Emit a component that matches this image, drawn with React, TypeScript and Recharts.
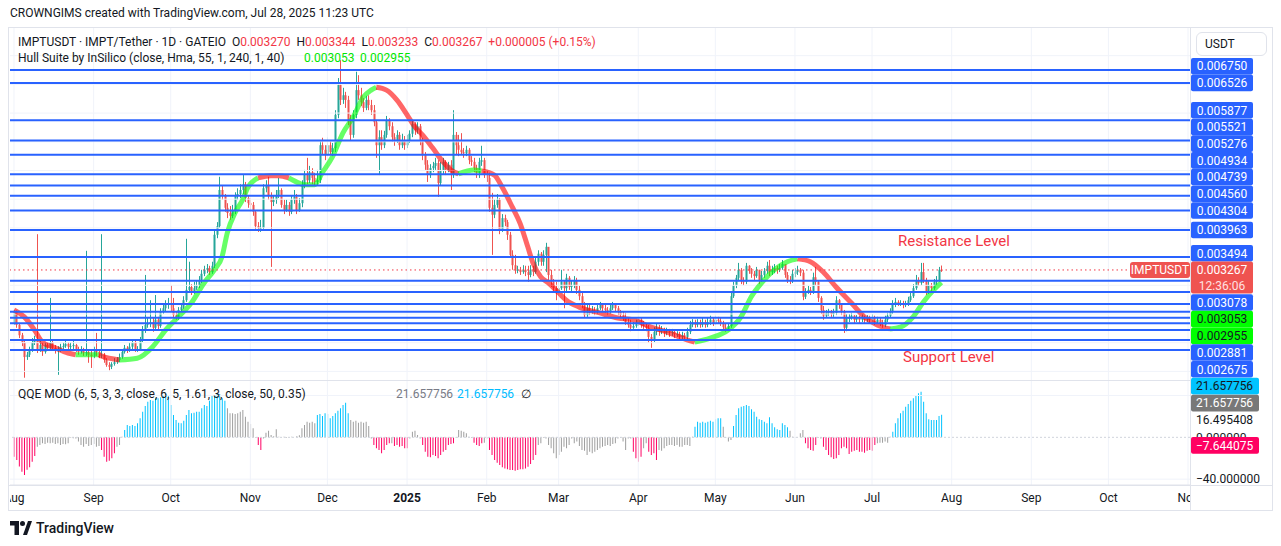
import { ComposedChart, Bar, Line, XAxis, YAxis, ReferenceLine, Cell } from "recharts";

// prices are stored in units of 0.00001 USDT, candles as [close, high, low]
type Candle = [number, number, number];

const firstOpen = 234;

const aug: Candle[] = [
  [254, 257, 231], [231, 256, 226], [213, 233, 208], [200, 217, 194], [175, 203, 139], [179, 184, 170], [187, 193, 175], [201, 208, 184], [205, 212, 196], [187, 389, 182],
  [196, 205, 184], [184, 200, 177], [196, 201, 181], [191, 200, 186], [201, 278, 187], [191, 205, 186], [187, 196, 181], [187, 194, 144], [193, 198, 184], [194, 200, 189],
  [198, 203, 191], [193, 201, 187], [194, 200, 189], [196, 203, 189], [187, 198, 184], [184, 193, 179], [187, 194, 181], [182, 191, 177], [184, 360, 177], [179, 189, 165],
  [177, 187, 156],
];
const sep: Candle[] = [
  [187, 193, 173], [184, 217, 177], [179, 189, 173], [179, 389, 173], [170, 182, 165], [161, 173, 158], [158, 166, 152], [163, 166, 154], [166, 173, 160], [170, 175, 163],
  [175, 181, 166], [184, 187, 172], [191, 196, 181], [187, 194, 182], [193, 200, 184], [201, 206, 189], [187, 203, 184], [189, 194, 184], [205, 210, 186], [222, 229, 201],
  [231, 318, 217], [234, 243, 226], [236, 274, 227], [226, 243, 219], [240, 283, 222], [229, 245, 222], [254, 260, 226], [260, 269, 250], [266, 274, 254], [269, 278, 259],
];
const oct: Candle[] = [
  [260, 300, 255], [248, 278, 243], [243, 254, 240], [257, 262, 240], [262, 269, 254], [274, 281, 259], [292, 381, 271], [297, 341, 287], [288, 302, 283], [295, 306, 285],
  [300, 309, 292], [309, 316, 295], [320, 327, 304], [327, 334, 316], [330, 337, 321], [323, 334, 318], [334, 341, 320], [388, 396, 330], [403, 410, 382], [466, 489, 400],
  [456, 473, 449], [435, 459, 428], [426, 443, 417], [421, 438, 414], [431, 440, 417], [456, 462, 424], [459, 469, 449], [466, 476, 452], [476, 492, 459], [452, 480, 445],
  [443, 457, 435],
];
const nov: Candle[] = [
  [440, 452, 428], [428, 445, 421], [403, 431, 396], [400, 410, 393], [400, 414, 393], [469, 476, 396], [473, 483, 462], [456, 489, 449], [445, 462, 332], [449, 457, 438],
  [457, 466, 442], [466, 487, 452], [440, 469, 435], [431, 449, 424], [440, 449, 428], [428, 445, 421], [449, 457, 424], [454, 466, 442], [431, 459, 424], [443, 452, 428],
  [475, 483, 436], [492, 501, 469], [483, 522, 476], [497, 508, 478], [487, 504, 476], [480, 496, 473], [483, 501, 475], [544, 553, 478], [536, 557, 527], [527, 544, 518],
];
const dec: Candle[] = [
  [544, 558, 525], [532, 551, 527], [539, 548, 525], [597, 605, 532], [649, 661, 591], [623, 692, 614], [631, 644, 616], [623, 637, 609], [588, 630, 579], [562, 597, 553],
  [597, 605, 557], [640, 672, 591], [631, 666, 623], [619, 644, 612], [609, 626, 602], [623, 630, 605], [614, 631, 605], [605, 623, 597], [584, 614, 577], [544, 588, 522],
  [558, 570, 492], [544, 570, 536], [562, 569, 539], [588, 595, 557], [577, 591, 570], [558, 584, 550], [553, 565, 543], [562, 570, 548], [544, 567, 536], [553, 564, 539],
  [544, 560, 536],
];
const jan: Candle[] = [
  [553, 562, 539], [564, 570, 548], [581, 588, 558], [570, 584, 562], [577, 584, 564], [553, 581, 544], [527, 557, 518], [510, 532, 501], [492, 518, 480], [504, 511, 487],
  [508, 515, 497], [513, 522, 501], [478, 518, 454], [501, 515, 473], [515, 522, 494], [501, 518, 492], [510, 515, 497], [492, 518, 466], [562, 605, 487], [544, 567, 527],
  [536, 562, 525], [532, 565, 527], [530, 539, 522], [536, 543, 525], [518, 539, 511], [515, 525, 508], [504, 522, 497], [496, 510, 487], [515, 522, 487], [518, 543, 508],
  [492, 522, 487],
];
const feb: Candle[] = [
  [487, 501, 480], [435, 496, 428], [423, 461, 353], [440, 449, 417], [449, 459, 435], [396, 452, 389], [417, 424, 393], [410, 423, 403], [388, 414, 379], [353, 393, 348],
  [335, 361, 327], [327, 353, 320], [327, 334, 321], [323, 332, 318], [327, 335, 320], [323, 334, 316], [318, 334, 306], [327, 335, 314], [323, 334, 316], [341, 348, 320],
  [355, 361, 334], [341, 358, 334], [353, 361, 334], [367, 374, 323], [318, 361, 309], [306, 327, 297], [295, 311, 287], [288, 306, 274],
];
const mar: Candle[] = [
  [295, 309, 281], [306, 327, 292], [295, 309, 260], [313, 320, 288], [297, 316, 292], [300, 309, 288], [309, 316, 295], [292, 313, 285], [281, 299, 274], [266, 288, 260],
  [248, 271, 243], [260, 267, 245], [254, 266, 248], [257, 264, 250], [254, 262, 248], [260, 266, 250], [266, 271, 257], [260, 269, 255], [257, 266, 252], [254, 262, 248],
  [260, 267, 250], [266, 271, 257], [260, 269, 255], [254, 264, 248], [248, 257, 243], [243, 254, 238], [236, 252, 231], [231, 243, 226], [226, 240, 220], [229, 236, 224],
  [233, 240, 226],
];
const apr: Candle[] = [
  [240, 245, 229], [231, 243, 226], [229, 238, 224], [226, 234, 220], [210, 231, 200], [205, 215, 191], [219, 227, 201], [226, 234, 213], [219, 231, 212], [222, 229, 215],
  [217, 226, 210], [220, 226, 213], [217, 224, 210], [219, 224, 212], [215, 222, 208], [215, 220, 210], [210, 219, 205], [213, 219, 206], [210, 217, 205], [219, 226, 206],
  [231, 238, 215], [236, 241, 227], [231, 240, 226], [236, 241, 227], [231, 240, 226], [236, 243, 227], [231, 240, 226], [236, 243, 227], [240, 247, 231], [234, 243, 229],
];
const may: Candle[] = [
  [240, 247, 231], [238, 245, 233], [234, 243, 229], [227, 238, 222], [224, 233, 219], [229, 234, 220], [281, 287, 226], [300, 306, 278], [313, 318, 295], [327, 339, 307],
  [307, 330, 302], [306, 314, 300], [334, 339, 302], [325, 335, 320], [320, 330, 313], [316, 325, 309], [327, 332, 313], [309, 327, 302], [318, 325, 306], [325, 330, 313],
  [334, 341, 320], [323, 344, 316], [327, 334, 318], [330, 337, 321], [327, 334, 320], [330, 337, 323], [337, 344, 327], [318, 335, 313], [309, 323, 304], [307, 316, 302],
  [320, 327, 304],
];
const jun: Candle[] = [
  [323, 330, 314], [327, 334, 318], [322, 330, 316], [280, 327, 274], [288, 295, 276], [292, 299, 285], [288, 297, 283], [314, 322, 285], [306, 332, 300], [278, 309, 271],
  [257, 281, 250], [247, 264, 240], [252, 257, 243], [254, 259, 247], [250, 257, 245], [252, 259, 245], [274, 281, 248], [266, 276, 259], [254, 269, 248], [226, 257, 217],
  [243, 250, 220], [243, 250, 236], [247, 252, 240], [240, 248, 234], [243, 248, 236], [240, 247, 233], [245, 250, 236], [240, 247, 234], [243, 248, 236], [240, 247, 233],
];
const jul: Candle[] = [
  [243, 250, 236], [236, 247, 231], [240, 245, 233], [234, 243, 229], [231, 240, 226], [240, 247, 227], [247, 252, 236], [254, 260, 243], [267, 274, 250], [271, 278, 262],
  [267, 274, 264], [269, 274, 264], [266, 273, 260], [267, 273, 262], [274, 280, 264], [281, 288, 271], [295, 302, 278], [309, 318, 292], [304, 314, 299], [323, 339, 300],
  [309, 339, 304], [290, 313, 283], [300, 307, 285], [295, 304, 288], [306, 311, 292], [309, 316, 300], [327, 332, 306], [326.7, 334.4, 323.3],
];

// QQE MOD histogram, one value per day, and its colour (b = blue, g = grey, p = pink)
const qqeAug = [-18.5, -21.7, -28, -33, -36, -31, -28.7, -23.3, -17.9, -8.9, -7.3, -5.7, -6.4, -5.1, -5.7, -5.1, -6.4, -5.7, -7.3, -6.4, -6.7, -5.7, -0.5, -0.8, -1, -4.1, -7.3, -8.9, -6.4, -8.3, -7.3];
const qqeSep = [-6.4, -8.9, -8.3, -12.1, -18.5, -23.3, -22.3, -20.1, -15.3, -8.9, -7.3, 0.5, 7, 11.8, 10.8, 11.8, 10.8, 13.4, 18.2, 24.6, 30, 34.1, 35.7, 35.1, 37.3, 37.3, 38.3, 40.5, 41.5, 39.6];
const qqeOct = [30.9, 21.4, 16.6, 14, 13.4, 15.9, 21.4, 26.2, 23, 23.6, 24.6, 24.6, 27.8, 30.9, 30, 35.1, 39.6, 38.9, 42.1, 41.5, 37.3, 35.1, 27.8, 23, 23, 22.3, 23, 24.6, 26.2, 19.8, 15];
const qqeNov = [12.8, 8.6, -0.5, -7.3, -12.1, -1, 4.5, 6.4, 2.2, 1, 7.7, 0.5, 0.3, 0.5, -0.5, 0.3, 0.5, 0.2, 1, 2, 8.6, 11.8, 15, 14, 15, 13.4, 21.4, 22.3, 20.4, 23];
const qqeDec = [22.3, 18.2, 20.4, 23, 25.5, 27.8, 30.9, 33.2, 23, 16.6, 15, 15.9, 14, 15, 14, 15, 10.8, -1, -7.3, -10.5, -12.1, -15.3, -12.1, -7.3, -5.7, -5.7, -8.3, -7.3, -8.9, -8.3, -10.5];
const qqeJan = [-10.5, -1, 5.4, 6.4, 2.2, -1, -7.3, -13.7, -18.5, -19.1, -16.9, -17.9, -20.1, -16.9, -13.7, -12.1, -7.3, -6.4, -5.7, -0.5, 7, 6.4, 5.4, 3.8, 0.5, -0.5, -5.1, -7.3, -8.3, -5.7, -5.1];
const qqeFeb = [-1, -12.1, -16.9, -21.7, -24.2, -26.5, -28.7, -29.7, -30.6, -31.3, -31.3, -31.9, -31.3, -30.6, -30.6, -29.7, -28.1, -25.5, -21.7, -16.9, -7.3, -5.7, -0.5, -1, -7.3, -10.5, -15.3, -20.1];
const qqeMar = [-16.9, -13.7, -8.9, -10.5, -7.3, -1, -5.7, -4.1, -8.3, -12.1, -12.8, -16.9, -13.7, -15.3, -13.7, -12.1, -10.5, -8.9, -8.3, -7.3, -8.3, -6.4, -5.7, -1, -0.5, -4.1, -12.1, -1, -1, -13.7, -20.1];
const qqeApr = [-23.3, -18.5, -10.5, -5.7, -13.7, -16.9, -15.3, -21.7, -12.1, -12.8, -10.5, -8.3, -7.3, -7.3, -8.3, -7.3, -8.9, -8.9, -7.3, -7.3, -8.3, 0.5, 10.2, 15, 14, 15, 14, 15, 15.9, 15];
const qqeMay = [17.2, 18.2, 18.2, 10.2, -0.5, -4.1, -2.6, 10.8, 21.4, 27.8, 29.3, 30, 30.9, 30, 26.8, 24.6, 19.8, 17.2, 16.6, 15, 13.4, 19.1, 13.4, 9.6, 7.7, 7, 13.4, 11.8, 9.6, 6.4, 0.5];
const qqeJun = [0.3, 0.2, 3.8, 7, -5.7, -10.5, -12.1, -12.8, -7.3, -0.5, -1, -8.9, -12.1, -16.9, -19.1, -20.7, -20.1, -16.9, -10.5, -8.9, -10.5, -15.9, -13.7, -12.8, -12.1, -13.7, -13.7, -14.7, -12.8, -12.1];
const qqeJul = [-12.8, -7.3, -5.7, -5.1, -5.1, -4.1, -5.1, 0.5, 5.4, 13.4, 18.2, 23, 25.5, 29.3, 31.9, 35.1, 37.3, 40.5, 42.1, 43.7, 34.1, 23, 17.2, 16.6, 16.6, 16.6, 20.4, 21.657756];

const qqeColours =
  "ppppppppp" + "g".repeat(22) +
  "ggg" + "pppppp" + "ggg" + "b".repeat(18) +
  "b".repeat(22) + "g".repeat(9) +
  "ggg" + "pp" + "g".repeat(21) + "bbbb" +
  "b".repeat(9) + "g".repeat(9) + "p".repeat(7) + "g" + "p".repeat(5) +
  "p" + "g".repeat(5) + "p".repeat(13) + "g".repeat(7) + "pppp" + "g" +
  "g" + "p".repeat(19) + "g".repeat(8) +
  "g".repeat(29) + "pp" +
  "pp" + "gg" + "pppp" + "g".repeat(14) + "b".repeat(8) +
  "bbb" + "gggg" + "b".repeat(22) + "gg" +
  "gggg" + "ppppp" + "gg" + "p".repeat(19) +
  "pp" + "g".repeat(6) + "b".repeat(20);

// Hull Suite: days, values and trend of the stretch that starts there (g up, r down)
const hullDays = [0, 4, 8, 11, 16, 21, 24, 33, 34, 41, 48, 54, 59, 64, 69, 74, 78, 81, 83, 86, 89, 91, 95, 100, 103, 107, 111, 113, 117, 120, 124, 128, 132, 136, 139, 141, 145, 149, 153, 156, 159, 163, 167, 170, 173, 179, 182, 187, 190, 194, 197, 200, 202, 205, 208, 212, 215, 220, 228, 235, 241, 248, 254, 262, 265, 271, 278, 283, 287, 291, 296, 301, 305, 310, 315, 320, 326, 331, 336, 341, 345, 350, 354, 358, 361];
const hullValues = [257, 245, 222, 201, 191, 182, 179, 179, 177, 170, 173, 193, 222, 245, 269, 304, 327, 350, 391, 426, 449, 470, 487, 491, 491, 487, 478, 475, 475, 496, 524, 565, 593, 628, 640, 645, 640, 623, 597, 576, 562, 539, 515, 501, 494, 501, 499, 492, 471, 436, 408, 367, 339, 315, 304, 287, 274, 262, 252, 243, 240, 227, 219, 205, 201, 208, 222, 245, 280, 304, 327, 341, 346, 341, 323, 297, 269, 245, 231, 224, 227, 245, 271, 292, 305];
const hullTrend = "rrrrrrgrrgggggggggggggrrrggggggggggrrrrrrrrrggrrrrrrrrrrrrrrrrrrggggggggrrrrrrrgggggg";

const levels = [0.00675, 0.006526, 0.005877, 0.005521, 0.005276, 0.004934, 0.004739, 0.00456, 0.004304, 0.003963, 0.003494, 0.003078, 0.002881, 0.002675, 0.002541, 0.002436, 0.002338, 0.002221, 0.002047, 0.001873];
const labelledLevels = 14;
const lastPrice = 0.003267;
const hullLast = [0.003053, 0.002955];
const gridPrices = [0.0015, 0.002, 0.0025, 0.003, 0.0035, 0.004, 0.0045, 0.005, 0.0055, 0.006, 0.0065, 0.007];

const monthStarts = [0, 31, 61, 92, 122, 153, 184, 212, 243, 273, 304, 334, 365, 396, 426, 457];
const monthLabels = ["Aug", "Sep", "Oct", "Nov", "Dec", "2025", "Feb", "Mar", "Apr", "May", "Jun", "Jul", "Aug", "Sep", "Oct", "Nov"];

const qqeLast = 21.657756;
const qqeSignal = 16.495408;
const qqeLow = -7.644075;

// ---- layout
const PLOT_W = 1180;
const AXIS_W = 83;
const PANE_H = 352;
const QQE_TOP_PAD = 10;
const QQE_H = 104;
const TIME_H = 25;
const X_DOMAIN: [number, number] = [-1.557, 457.77];
const Y_DOMAIN: [number, number] = [0.00135, 0.007482];
const Q_DOMAIN: [number, number] = [-45.6, 53.9];
const FONT = "Roboto, 'Noto Sans', sans-serif";

const allCandles = [...aug, ...sep, ...oct, ...nov, ...dec, ...jan, ...feb, ...mar, ...apr, ...may, ...jun, ...jul];
const qqeValues = [...qqeAug, ...qqeSep, ...qqeOct, ...qqeNov, ...qqeDec, ...qqeJan, ...qqeFeb, ...qqeMar, ...qqeApr, ...qqeMay, ...qqeJun, ...qqeJul];

let prevClose = firstOpen;
const rows = allCandles.map(([c, h, l], d) => {
  const o = prevClose;
  prevClose = c;
  return { d, o: o * 1e-5, c: c * 1e-5, h: h * 1e-5, l: l * 1e-5, range: [l * 1e-5, h * 1e-5], q: qqeValues[d], qc: qqeColours[d] };
});

const hullSegments: { up: boolean; pts: { d: number; v: number }[] }[] = [];
for (let i = 0; i < hullDays.length - 1; i++) {
  const up = hullTrend[i] === "g";
  const a = { d: hullDays[i], v: hullValues[i] * 1e-5 };
  const b = { d: hullDays[i + 1], v: hullValues[i + 1] * 1e-5 };
  const last = hullSegments[hullSegments.length - 1];
  if (last && last.up === up) last.pts.push(b);
  else hullSegments.push({ up, pts: [a, b] });
}

// price scale tags, pushed apart like TradingView does
type Tag = { value: number; pos: number; text: string; kind: "level" | "last" | "hull" };
const pricePerPx = (Y_DOMAIN[1] - Y_DOMAIN[0]) / PANE_H;
const priceTags: Tag[] = [
  ...levels.slice(0, labelledLevels).map((v) => ({ value: v, pos: v, text: v.toFixed(6), kind: "level" as const })),
  { value: lastPrice, pos: lastPrice, text: lastPrice.toFixed(6), kind: "last" as const },
  ...hullLast.map((v) => ({ value: v, pos: v, text: v.toFixed(6), kind: "hull" as const })),
].sort((a, b) => b.value - a.value);
const anchor = priceTags.findIndex((t) => t.kind === "last");
for (let i = anchor - 1; i >= 0; i--) priceTags[i].pos = Math.max(priceTags[i].value, priceTags[i + 1].pos + 16.7 * pricePerPx);
for (let i = anchor + 1; i < priceTags.length; i++)
  priceTags[i].pos = Math.min(priceTags[i].value, priceTags[i - 1].pos - (i === anchor + 1 ? 32.5 : 16.7) * pricePerPx);

const qPerPx = (Q_DOMAIN[1] - Q_DOMAIN[0]) / QQE_H;
const qGrey = Math.max(qqeLast, qqeSignal + 17 * qPerPx);
const qqeTags = [
  { pos: qGrey + 17 * qPerPx, text: qqeLast.toFixed(6), bg: "#00c3ff", fg: "#131722" },
  { pos: qGrey, text: qqeLast.toFixed(6), bg: "#787878", fg: "#ffffff" },
  { pos: qqeSignal, text: qqeSignal.toFixed(6), bg: "", fg: "#131722" },
  { pos: 0, text: (0).toFixed(6), bg: "", fg: "#131722" },
  { pos: qqeLow, text: "−" + Math.abs(qqeLow).toFixed(6), bg: "#ff0062", fg: "#ffffff" },
  { pos: -40, text: "−" + (40).toFixed(6), bg: "", fg: "#131722" },
];

const qqeFill: Record<string, string> = { b: "#00c3ff", g: "#9e9e9e", p: "#ff0062" };

const CandleShape = (props: any) => {
  const { x, y, width, height, payload } = props;
  if (x == null || y == null || !payload) return null;
  const { o, c, h, l } = payload;
  const top = Math.min(y, y + height);
  const bottom = Math.max(y, y + height);
  const span = h - l || 1e-9;
  const py = (v: number) => top + ((h - v) / span) * (bottom - top);
  const cx = Math.round(x + width / 2);
  const col = c >= o ? "#26a69a" : "#ef5350";
  const bTop = py(Math.max(o, c));
  const bBot = py(Math.min(o, c));
  return (
    <g>
      <line x1={cx + 0.5} x2={cx + 0.5} y1={top} y2={bottom} stroke={col} strokeWidth={1} />
      <rect x={cx - 0.5} y={bTop} width={2} height={Math.max(1, bBot - bTop)} fill={col} />
    </g>
  );
};

const PriceTag = (props: any) => {
  const { y, index } = props;
  const t = priceTags[index];
  if (!t) return null;
  const x0 = PLOT_W + 1;
  if (t.kind === "last") {
    return (
      <g>
        <rect x={x0 - 61} y={y - 8} width={60} height={16} rx={3} fill="#ef5350" />
        <text x={x0 - 31} y={y + 4} textAnchor="middle" fill="#fff" fontSize={12}>IMPTUSDT</text>
        <rect x={x0} y={y - 8.5} width={62} height={32} rx={2} fill="#ef5350" />
        <text x={x0 + 31} y={y + 4} textAnchor="middle" fill="#fff" fontSize={12}>{t.text}</text>
        <text x={x0 + 31} y={y + 20} textAnchor="middle" fill="#ffe0e0" fontSize={12}>12:36:06</text>
      </g>
    );
  }
  const hull = t.kind === "hull";
  return (
    <g>
      <rect x={x0} y={y - 8.3} width={62} height={16.6} rx={2} fill={hull ? "#00ff00" : "#2962ff"} />
      <text x={x0 + 31} y={y + 4.3} textAnchor="middle" fill={hull ? "#131722" : "#fff"} fontSize={12}>{t.text}</text>
    </g>
  );
};

const QqeTag = (props: any) => {
  const { y, index } = props;
  const t = qqeTags[index];
  if (!t) return null;
  const x0 = PLOT_W + 1;
  return (
    <g>
      {t.bg && <rect x={x0} y={y - 8.3} width={68} height={16.6} rx={2} fill={t.bg} />}
      <text x={x0 + 5} y={y + 4.3} fill={t.fg} fontSize={12}>{t.text}</text>
    </g>
  );
};

const MonthTick = (props: any) => {
  const { x, y, payload } = props;
  const label = monthLabels[monthStarts.indexOf(payload.value)];
  return (
    <text x={x} y={y + 9} textAnchor="middle" fontSize={12} fill="#131722" fontWeight={label === "2025" ? 700 : 400}>
      {label}
    </text>
  );
};

const red = "#f23645";
const hullGreen = "#00e600";

export default function App() {
  return (
    <div style={{ position: "absolute", left: 0, top: 0, width: 1281, height: 546, background: "#fff", fontFamily: FONT, color: "#131722", overflow: "hidden" }}>
      <div style={{ position: "absolute", left: 10, top: 6, fontSize: 12, whiteSpace: "nowrap" }}>
        CROWNGIMS created with TradingView.com, Jul 28, 2025 11:23 UTC
      </div>

      {/* frame */}
      <div style={{ position: "absolute", left: 8, top: 27, width: 1265, height: 484, border: "1px solid #e0e3eb", boxSizing: "border-box" }} />

      <div style={{ position: "absolute", left: 10, top: 28 }}>
        <ComposedChart width={PLOT_W + AXIS_W} height={PANE_H} data={rows} margin={{ top: 0, right: 0, bottom: 0, left: 0 }}>
          <XAxis dataKey="d" type="number" domain={X_DOMAIN} allowDataOverflow hide />
          <YAxis
            orientation="right"
            width={AXIS_W}
            type="number"
            domain={Y_DOMAIN}
            allowDataOverflow
            ticks={priceTags.map((t) => t.pos)}
            interval={0}
            tick={PriceTag}
            tickLine={false}
            axisLine={false}
          />
          {monthStarts.map((d) => (
            <ReferenceLine key={"mv" + d} x={d} stroke="#f0f3fa" strokeWidth={1} />
          ))}
          {gridPrices.map((p) => (
            <ReferenceLine key={"gh" + p} y={p} stroke="#f0f3fa" strokeWidth={1} />
          ))}
          <Bar dataKey="range" barSize={3} shape={CandleShape} isAnimationActive={false} />
          {hullSegments.map((s, i) => (
            <Line
              key={"hull" + i}
              data={s.pts}
              dataKey="v"
              type="monotone"
              dot={false}
              activeDot={false}
              stroke={s.up ? "#00ff00" : "#ff0000"}
              strokeOpacity={0.6}
              strokeWidth={5}
              isAnimationActive={false}
            />
          ))}
          {levels.map((p) => (
            <ReferenceLine key={"lv" + p} y={p} stroke="#2962ff" strokeWidth={2} />
          ))}
          <ReferenceLine y={lastPrice} stroke={red} strokeWidth={1} strokeDasharray="1.5 3" />
        </ComposedChart>
      </div>

      <div style={{ position: "absolute", left: 10, top: 381 - QQE_TOP_PAD }}>
        <ComposedChart width={PLOT_W + AXIS_W} height={QQE_TOP_PAD + QQE_H + TIME_H} data={rows} margin={{ top: QQE_TOP_PAD, right: 0, bottom: 0, left: 0 }}>
          <XAxis
            dataKey="d"
            type="number"
            domain={X_DOMAIN}
            allowDataOverflow
            ticks={monthStarts}
            interval={0}
            height={TIME_H}
            tick={MonthTick}
            tickLine={false}
            axisLine={{ stroke: "#e0e3eb" }}
          />
          <YAxis
            orientation="right"
            width={AXIS_W}
            type="number"
            domain={Q_DOMAIN}
            allowDataOverflow
            ticks={qqeTags.map((t) => t.pos)}
            interval={0}
            tick={QqeTag}
            tickLine={false}
            axisLine={false}
          />
          {monthStarts.map((d) => (
            <ReferenceLine key={"qv" + d} x={d} stroke="#f0f3fa" strokeWidth={1} />
          ))}
          <ReferenceLine y={40} stroke="#f0f3fa" />
          <ReferenceLine y={-40} stroke="#f0f3fa" />
          <ReferenceLine y={0} stroke="#d1d4dc" strokeDasharray="2 2" />
          <Bar dataKey="q" barSize={1} isAnimationActive={false}>
            {rows.map((r) => (
              <Cell key={r.d} fill={qqeFill[r.qc] ?? "#9e9e9e"} />
            ))}
          </Bar>
        </ComposedChart>
      </div>

      {/* hide time labels under the price scale, then draw separators */}
      <div style={{ position: "absolute", left: 1191, top: 486, width: 81, height: 24, background: "#fff" }} />
      <div style={{ position: "absolute", left: 8, top: 380, width: 1182, height: 1, background: "#e0e3eb" }} />
      <div style={{ position: "absolute", left: 8, top: 485, width: 1265, height: 1, background: "#e0e3eb" }} />
      <div style={{ position: "absolute", left: 1190, top: 27, width: 1, height: 484, background: "#e0e3eb" }} />

      {/* legends */}
      <div style={{ position: "absolute", left: 18, top: 35, fontSize: 12, whiteSpace: "nowrap" }}>
        IMPTUSDT · IMPT/Tether · 1D · GATEIO&nbsp;&nbsp;O<span style={{ color: red }}>0.003270</span>&nbsp;&nbsp;H
        <span style={{ color: red }}>0.003344</span>&nbsp;&nbsp;L<span style={{ color: red }}>0.003233</span>&nbsp;&nbsp;C
        <span style={{ color: red }}>0.003267</span>&nbsp;&nbsp;<span style={{ color: red }}>+0.000005 (+0.15%)</span>
      </div>
      <div style={{ position: "absolute", left: 18, top: 51, fontSize: 12, whiteSpace: "nowrap" }}>
        Hull Suite by InSilico (close, Hma, 55, 1, 240, 1, 40)
      </div>
      <div style={{ position: "absolute", left: 304, top: 51, fontSize: 12, whiteSpace: "nowrap", color: hullGreen }}>0.003053</div>
      <div style={{ position: "absolute", left: 360, top: 51, fontSize: 12, whiteSpace: "nowrap", color: hullGreen }}>0.002955</div>
      <div style={{ position: "absolute", left: 18, top: 387, fontSize: 12, whiteSpace: "nowrap" }}>
        QQE MOD (6, 5, 3, 3, close, 6, 5, 1.61, 3, close, 50, 0.35)
      </div>
      <div style={{ position: "absolute", left: 396, top: 387, fontSize: 12, whiteSpace: "nowrap", color: "#787b86" }}>21.657756</div>
      <div style={{ position: "absolute", left: 457, top: 387, fontSize: 12, whiteSpace: "nowrap", color: "#00bcff" }}>21.657756</div>
      <div style={{ position: "absolute", left: 521, top: 387, fontSize: 12, whiteSpace: "nowrap", color: "#131722" }}>∅</div>

      <div style={{ position: "absolute", left: 898, top: 232, fontSize: 15, color: red, whiteSpace: "nowrap" }}>Resistance Level</div>
      <div style={{ position: "absolute", left: 903, top: 348, fontSize: 15, color: red, whiteSpace: "nowrap" }}>Support Level</div>

      <div style={{ position: "absolute", left: 1196, top: 32, width: 71, height: 24, border: "1px solid #e0e3eb", borderRadius: 6, boxSizing: "border-box", fontSize: 12, lineHeight: "22px", paddingLeft: 8 }}>
        USDT
      </div>

      <div style={{ position: "absolute", left: 10, top: 520, display: "flex", alignItems: "center", gap: 4 }}>
        <svg width={22} height={14} viewBox="0 0 22 14">
          <path d="M0 0H9V14H4.5V4.5H0Z" fill="#131722" />
          <circle cx={12.5} cy={2.5} r={2.5} fill="#131722" />
          <path d="M13 14L18 0H22L17 14Z" fill="#131722" />
        </svg>
        <span style={{ fontSize: 14, fontWeight: 500 }}>TradingView</span>
      </div>
    </div>
  );
}
